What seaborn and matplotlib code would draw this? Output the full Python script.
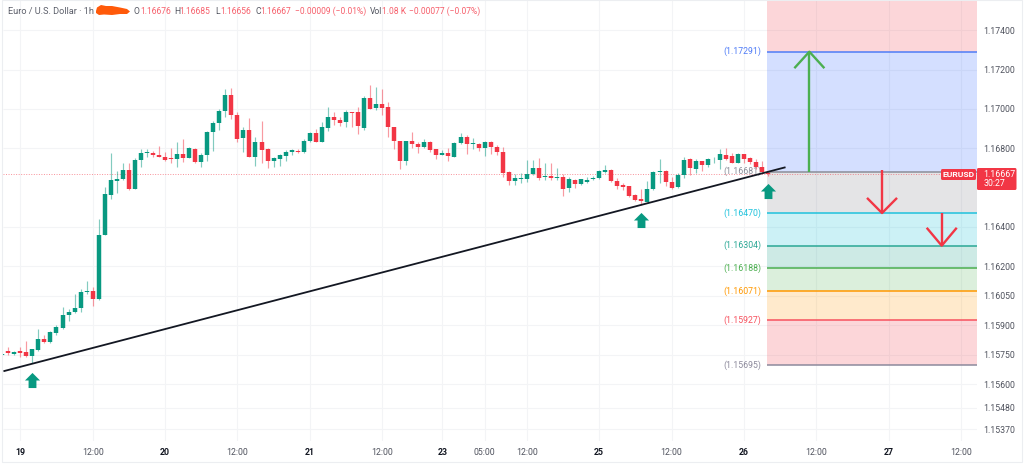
import numpy as np
import pandas as pd
import seaborn as sns
import matplotlib.pyplot as plt
from matplotlib.patches import FancyBboxPatch, Polygon, Rectangle
from matplotlib.path import Path
from matplotlib.transforms import IdentityTransform

# Candles, hour by hour, prices in 1e-5 units
first_bar = -3
opens = [115749, 115766, 115753, 115766, 115761, 115741, 115773, 115827, 115812, 115860,
         115885, 115950, 115966, 115985, 116067, 116072, 116031, 116360, 116562, 116635,
         116642, 116688, 116592, 116738, 116776, 116776, 116765, 116757, 116750, 116747,
         116769, 116752, 116798, 116731, 116764, 116881, 116927, 116989, 117069, 116970,
         116850, 116891, 116757,
         116831, 116796, 116735, 116745, 116762, 116782, 116787, 116779, 116836, 116878,
         116833, 116905, 116961, 116944, 116931, 116983, 116982, 116905, 117055, 117005,
         117023, 117011, 116908, 116838, 116736, 116835, 116821, 116805, 116832, 116794,
         116767, 116777, 116757, 116824, 116855, 116820, 116821, 116800, 116832, 116808,
         116779, 116679, 116635, 116645, 116643, 116668, 116699, 116655, 116657, 116650,
         116652, 116596, 116640, 116616, 116628, 116642, 116647, 116681, 116689, 116635,
         116611, 116606, 116562, 116540, 116528, 116591, 116677, 116686, 116628, 116601,
         116665, 116743, 116696, 116733, 116716, 116743, 116741, 116767, 116760, 116726,
         116769, 116749, 116728, 116704, 116676]
highs = [115754, 115787, 115768, 115787, 115820, 115780, 115878, 115849, 115868, 115899,
         115992, 115980, 116058, 116085, 116124, 116092, 116440, 116601, 116774, 116684,
         116725, 116725, 116749, 116794, 116794, 116787, 116811, 116781, 116803, 116830,
         116845, 116805, 116801, 116777, 116887, 116940, 117001, 117100, 117106, 116986,
         116906, 116952, 116855,
         116940, 116803, 116753, 116770, 116791, 116797, 116794, 116845, 116882, 116900,
         116934, 117010, 116983, 116957, 116994, 116983, 117007, 117065, 117120, 117110,
         117100, 117033, 116908, 116838, 116838, 116882, 116832, 116845, 116837, 116796,
         116791, 116801, 116830, 116875, 116868, 116851, 116828, 116835, 116835, 116815,
         116808, 116685, 116671, 116675, 116740, 116740, 116750, 116726, 116726, 116701,
         116669, 116655, 116645, 116645, 116655, 116658, 116689, 116713, 116693, 116648,
         116625, 116608, 116567, 116594, 116635, 116682, 116743, 116688, 116655, 116673,
         116757, 116750, 116743, 116736, 116750, 116757, 116794, 116801, 116774, 116774,
         116772, 116757, 116743, 116733, 116685]
lows = [115747, 115746, 115749, 115739, 115737, 115705, 115769, 115810, 115807, 115851,
        115881, 115922, 115963, 115966, 116058, 115998, 116030, 116358, 116543, 116570,
        116638, 116589, 116591, 116706, 116754, 116757, 116754, 116733, 116726, 116706,
        116731, 116749, 116723, 116706, 116736, 116787, 116893, 116960, 116947, 116830,
        116781, 116755, 116711,
        116726, 116701, 116706, 116709, 116736, 116764, 116774, 116777, 116833, 116831,
        116831, 116885, 116919, 116914, 116906, 116906, 116872, 116895, 116998, 116994,
        116967, 116859, 116795, 116692, 116713, 116801, 116777, 116801, 116782, 116747,
        116764, 116736, 116754, 116821, 116770, 116796, 116787, 116762, 116770, 116765,
        116655, 116611, 116611, 116621, 116628, 116665, 116637, 116638, 116638, 116638,
        116557, 116577, 116597, 116611, 116625, 116638, 116643, 116676, 116628, 116591,
        116587, 116553, 116533, 116509, 116526, 116587, 116625, 116608, 116591, 116597,
        116648, 116665, 116675, 116685, 116703, 116726, 116692, 116740, 116723, 116723,
        116723, 116720, 116692, 116676, 116656]
closes = [115753, 115756, 115764, 115759, 115741, 115777, 115827, 115814, 115863, 115889,
          115950, 115968, 115985, 116067, 116072, 116031, 116360, 116567, 116638, 116643,
          116688, 116592, 116740, 116774, 116781, 116765, 116755, 116741, 116747, 116769,
          116752, 116801, 116731, 116765, 116884, 116927, 116989, 117072, 116969, 116848,
          116891, 116757, 116831,
          116791, 116735, 116748, 116764, 116782, 116789, 116779, 116836, 116878, 116833,
          116907, 116961, 116943, 116929, 116982, 116980, 116914, 117055, 117001, 117023,
          117006, 116906, 116838, 116733, 116835, 116820, 116805, 116832, 116791, 116767,
          116776, 116760, 116826, 116855, 116820, 116826, 116803, 116832, 116808, 116779,
          116672, 116633, 116646, 116648, 116671, 116699, 116650, 116658, 116648, 116653,
          116594, 116643, 116618, 116643, 116640, 116650, 116686, 116689, 116632, 116608,
          116604, 116557, 116536, 116530, 116591, 116679, 116686, 116627, 116599, 116665,
          116742, 116698, 116733, 116716, 116745, 116747, 116769, 116747, 116726, 116772,
          116747, 116728, 116703, 116679, 116667]

# Fib levels, top to bottom
fib_levels = [1.17291, 1.16681, 1.16470, 1.16304, 1.16188, 1.16071, 1.15927, 1.15695]
fib_colors = ["#4f7cf7", "#8a8d98", "#1fc2dc", "#2aa795", "#4caf50", "#ff9800", "#f7525f", "#8d8a9c"]
band_colors = ["#f23645", "#2962ff", "#787b86", "#00bcd4", "#089981", "#4caf50", "#ff9800", "#f23645"]
fib_start = 123.9

# Axis ticks
y_ticks = [1.174, 1.172, 1.170, 1.168, 1.164, 1.162, 1.1605, 1.159, 1.1575, 1.156, 1.1548, 1.1537]
x_ticks = [0, 12, 24, 36, 48, 60, 70, 77, 84, 96, 108, 120, 132, 144, 156]
x_labels = ["19", "12:00", "20", "12:00", "21", "12:00", "23", "05:00", "12:00",
            "25", "12:00", "26", "12:00", "27", "12:00"]
day_labels = {"19", "20", "21", "23", "25", "26", "27"}

# Drawings on the chart
trend_x = [-2.8, 126.9]
trend_y = [1.15665, 1.16703]
mark_x = [2, 103, 124]
mark_y = [1.15619, 1.16437, 1.16583]
last_price = 1.16667
up_arrow = dict(x=130.85, start=1.16681, tip=1.17291, wing=1.17207)
down_arrows = [dict(x=142.9, start=1.16690, tip=1.16470, wing=1.16547),
               dict(x=152.8, start=1.16470, tip=1.16304, wing=1.16395)]

W, H = 1024, 466
GREEN, RED = "#089981", "#f23645"
TEXT = "#50535e"
FS = 6.3
HEAD_FS = 6.15

sns.set_theme(style="white")
plt.rcParams["font.family"] = ["Roboto", "DejaVu Sans"]
plt.rcParams["lines.solid_capstyle"] = "butt"

fig = plt.figure(figsize=(W / 100, H / 100), dpi=100, facecolor="white")
ax = fig.add_axes([3 / W, (H - 441) / H, 974 / W, 441 / H])
ax.set_xlim(-2.87, 158.65)
ax.set_ylim(1.15310, 1.17554)
ax.set_axisbelow(True)
ax.grid(True, color="#f3f4f6", lw=0.8)

# Fib bands sit on the grid
edges = [ax.get_ylim()[1]] + fib_levels
for top, bottom, col in zip(edges[:-1], edges[1:], band_colors):
    ax.fill_between([fib_start, 158.65], bottom, top, color=col, alpha=0.2, lw=0, zorder=1)

for lvl, col in zip(fib_levels, fib_colors):
    sns.lineplot(x=[fib_start, 158.65], y=[lvl, lvl], color=col, lw=1.1, ax=ax, zorder=2)
    ax.text(122.9, lvl, f"({lvl:.5f})", color=col, fontsize=FS, ha="right", va="center", zorder=2)

ax.axhline(last_price, color=RED, lw=0.7, ls=(0, (1, 1.6)), alpha=0.55, zorder=2)

# Candles as two thick and thin line sets
bars = pd.DataFrame({"open": opens, "high": highs, "low": lows, "close": closes}) / 1e5
bars["bar"] = np.arange(len(bars)) + first_bar
bars["up"] = bars["close"] >= bars["open"]
wicks = bars.melt(id_vars=["bar", "up"], value_vars=["low", "high"], value_name="price")
bodies = bars.melt(id_vars=["bar", "up"], value_vars=["open", "close"], value_name="price")
palette = {True: GREEN, False: RED}
sns.lineplot(data=wicks, x="bar", y="price", hue="up", units="bar", estimator=None, palette=palette,
             lw=0.85, alpha=0.5, legend=False, sort=False, ax=ax, zorder=3)
sns.lineplot(data=bodies, x="bar", y="price", hue="up", units="bar", estimator=None, palette=palette,
             lw=3.2, legend=False, sort=False, ax=ax, zorder=4)

sns.lineplot(x=trend_x, y=trend_y, color="#131722", lw=1.3, ax=ax, zorder=5)

# Block arrows under the swing lows
arrow_mark = Path([(0, 1), (1, 0), (0.52, 0), (0.52, -1), (-0.52, -1), (-0.52, 0), (-1, 0), (0, 1)], closed=True)
sns.scatterplot(x=mark_x, y=mark_y, marker=arrow_mark, s=118, color=GREEN, linewidth=0, ax=ax, zorder=6)


def draw_arrow(a, col):
    # estimator=None or seaborn averages the two points that share an x
    sns.lineplot(x=[a["x"], a["x"]], y=[a["start"], a["tip"]], color=col, lw=1.7,
                 estimator=None, sort=False, ax=ax, zorder=6)
    sns.lineplot(x=[a["x"] - 2.49, a["x"], a["x"] + 2.49], y=[a["wing"], a["tip"], a["wing"]],
                 color=col, lw=1.7, estimator=None, sort=False, ax=ax, zorder=6)


draw_arrow(up_arrow, "#4caf50")
for a in down_arrows:
    draw_arrow(a, RED)

# Axes
ax.set_xlabel("")
ax.set_ylabel("")
ax.yaxis.tick_right()
ax.set_yticks(y_ticks)
ax.set_yticklabels([f"{v:.5f}" for v in y_ticks])
ax.set_xticks(x_ticks)
ax.set_xticklabels(x_labels)
ax.tick_params(axis="both", length=0, labelsize=FS, labelcolor=TEXT)
ax.tick_params(axis="x", pad=5)
ax.tick_params(axis="y", pad=4.5)
for lab in ax.get_xticklabels():
    if lab.get_text() in day_labels:
        lab.set_fontweight("bold")
        lab.set_color("#131722")
for s in ax.spines.values():
    s.set_visible(False)

# Pixel space helpers for the chart furniture
px = IdentityTransform()


def pxtext(x, y, s, **kw):
    kw.setdefault("fontsize", FS)
    kw.setdefault("va", "center")
    kw.setdefault("color", TEXT)
    fig.text(x / W, 1 - y / H, s, **kw)


fig.add_artist(Rectangle((2, H - 462), 1020, 462, transform=px, fill=False, ec="#eceef1", lw=0.8))

pxtext(8.5, 11, "Euro / U.S. Dollar · 1h", color="#5d606b", fontsize=6.6)
scribble = [(96, 11), (97, 7.5), (101, 5), (106, 6), (112, 6), (120, 7.5), (127, 9), (130, 11.5),
            (127, 14), (120, 14), (112, 15), (104, 14.5), (99, 15), (96, 13)]
fig.add_artist(Polygon([(x, H - y) for x, y in scribble], closed=True, transform=px, fc="#ff5a0a", ec="none"))

HEAD_RED = "#f7606c"
for xl, lab, xv, val in [(133.7, "O", 140, "1.16676"), (174.7, "H", 179.5, "1.16685"),
                         (215.7, "L", 220, "1.16656"), (255, "C", 260, "1.16667")]:
    pxtext(xl, 11, lab, fontsize=HEAD_FS)
    pxtext(xv, 11, val, color=HEAD_RED, fontsize=HEAD_FS)
pxtext(295.3, 11, "−0.00009 (−0.01%)", color=HEAD_RED, fontsize=HEAD_FS)
pxtext(370, 11, "Vol", fontsize=HEAD_FS)
pxtext(381.7, 11, "1.08 K", color=HEAD_RED, fontsize=HEAD_FS)
pxtext(409.3, 11, "−0.00077 (−0.07%)", color=HEAD_RED, fontsize=HEAD_FS)

# Price tag on the right
fig.add_artist(FancyBboxPatch((941, H - 180), 35, 11, boxstyle="round,pad=0,rounding_size=1.5",
                              transform=px, fc=RED, ec="none"))
fig.add_artist(FancyBboxPatch((977, H - 190), 39.5, 22, boxstyle="round,pad=0,rounding_size=1.5",
                              transform=px, fc=RED, ec="none"))
pxtext(958.5, 174.5, "EURUSD", color="white", fontweight="bold", ha="center", fontsize=6.1)
pxtext(983.5, 174.5, "1.16667", color="white", fontsize=FS)
pxtext(983.5, 184, "30:27", color="white", fontsize=FS)

fig.savefig("out.png", dpi=100)
